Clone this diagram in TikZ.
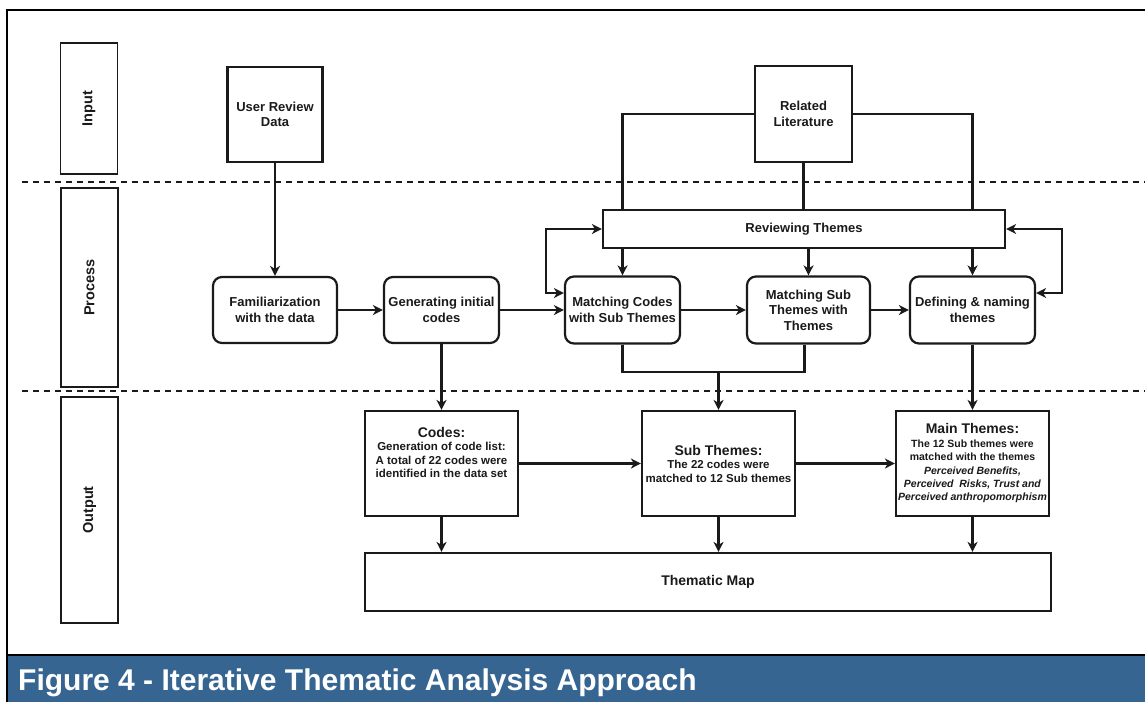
\documentclass[tikz,border=0pt]{standalone}
\usepackage{fontspec}
\setmainfont{Liberation Sans}
\usetikzlibrary{arrows.meta,calc}
\definecolor{ink}{HTML}{1A1A1A}
\definecolor{band}{HTML}{366592}
\tikzset{
  every node/.style={font=\bfseries\fontsize{13}{15.5}\selectfont, text=ink, align=center, inner sep=0pt},
  boxn/.style={draw=ink, line width=2.2pt, fill=white},
  rbox/.style={boxn, rounded corners=9pt},
  lane/.style={draw=ink, line width=1.8pt, minimum width=57pt, font=\bfseries\fontsize{14.5}{16}\selectfont},
  conn/.style={draw=ink, line width=2.2pt},
  tip/.tip={Stealth[length=10pt,width=10pt,inset=3pt]},
  arr/.style={conn, -tip},
  darr/.style={conn, tip-tip},
  sep/.style={draw=ink, line width=2pt, dash pattern=on 6pt off 5pt},
  outbox/.style={boxn, minimum width=153pt, minimum height=105pt},
}
\begin{document}
\begin{tikzpicture}[x=1pt,y=-1pt]
\useasboundingbox (0,0) rectangle (1145,702);
% frame and caption band
\fill[band] (7,655) rectangle (1145,702);
\draw[line width=2pt, black] (7,702) -- (7,10) -- (1145,10);
\draw[line width=2.4pt, black] (7,655) -- (1145,655);
\node[anchor=west, text=white, font=\bfseries\fontsize{30}{32}\selectfont] (cap) at (18,683) {Figure 4 - Iterative Thematic Analysis Approach};
% separators
\draw[sep] (22,182) -- (1145,182);
\draw[sep] (22,391) -- (1145,391);
% lanes
\node[lane, minimum height=131pt] (linp) at (89,108.5) {\rotatebox{90}{Input}};
\node[lane, minimum height=199pt] (lproc) at (89.5,287.5) {\rotatebox{90}{Process}};
\node[lane, minimum height=226pt] (lout) at (89.5,510) {\rotatebox{90}{Output}};
% input
\node[boxn, minimum width=95pt, minimum height=95pt] (urd) at (275,114.5) {User Review\\Data};
\node[boxn, minimum width=97pt, minimum height=96pt] (rl) at (803.5,114) {Related\\Literature};
% process
\node[boxn, minimum width=402pt, minimum height=38pt] (rt) at (804,229) {Reviewing Themes};
\node[rbox, minimum width=124pt, minimum height=66pt] (fam) at (275,310) {Familiarization\\with the data};
\node[rbox, minimum width=115pt, minimum height=66pt] (gen) at (441.5,310) {Generating initial\\codes};
\node[rbox, minimum width=115pt, minimum height=67pt] (mc) at (622.5,310) {Matching Codes\\with Sub Themes};
\node[rbox, minimum width=123pt, minimum height=67pt] (ms) at (808.5,310) {Matching Sub\\Themes with\\Themes};
\node[rbox, minimum width=125pt, minimum height=67pt] (dn) at (972.5,310) {Defining \& naming\\themes};
% output
\node[outbox, font=\bfseries\fontsize{11.5}{13.3}\selectfont] (codes) at (441.5,463.5)
  {{\fontsize{14}{14}\selectfont Codes:}\\
   Generation of code list:\\A total of 22 codes were\\identified in the data set\\[9pt]};
\node[outbox, font=\bfseries\fontsize{11.5}{13.5}\selectfont] (sub) at (718.5,463.5)
  {{\fontsize{14}{14}\selectfont Sub Themes:}\\
   The 22 codes were\\matched to 12 Sub themes};
\node[outbox, font=\bfseries\fontsize{10.5}{13.4}\selectfont] (main) at (972.5,463.5)
  {{\fontsize{14}{14}\selectfont Main Themes:}\\
   The 12 Sub themes were\\matched with the themes\\
   \textit{Perceived Benefits,}\\\textit{Perceived\ \ Risks, Trust and}\\\textit{Perceived anthropomorphism}};
\node[boxn, minimum width=686pt, minimum height=58pt, font=\bfseries\fontsize{14}{16}\selectfont] (tm) at (708,582) {Thematic Map};
% connectors: input
\draw[arr] (urd.south) -- (fam.north);
\draw[conn] (rl.west) -| (rt.north -| mc.north);
\draw[conn] (rl.east) -| (rt.north -| dn.north);
\draw[conn] (rl.south) -- (rt.north -| rl.south);
% process chain
\draw[arr] (fam.east) -- (gen.west);
\draw[arr] (gen.east) -- (mc.west);
\draw[arr] (mc.east) -- (ms.west);
\draw[arr] (ms.east) -- (dn.west);
\draw[arr] (rt.south -| mc.north) -- (mc.north);
\draw[arr] (rt.south -| ms.north) -- (ms.north);
\draw[arr] (rt.south -| dn.north) -- (dn.north);
% feedback loops
\coordinate (lp) at (546,229);
\coordinate (rp) at (1062,229);
\draw[darr] (rt.west) -- (lp) |- ([yshift=17pt]mc.west);
\draw[darr] (rt.east) -- (rp) |- ([yshift=17pt]dn.east);
% join to sub themes
\coordinate (j) at (718.5,372);
\draw[conn] (mc.south) |- (j) -| ([xshift=-4pt]ms.south);
\draw[arr] (j) -- (sub.north);
\draw[arr] (gen.south) -- (codes.north);
\draw[arr] (dn.south) -- (main.north);
% output
\draw[arr] (codes.east) -- (sub.west);
\draw[arr] (sub.east) -- (main.west);
\draw[arr] (codes.south) -- (codes.south |- tm.north);
\draw[arr] (sub.south) -- (sub.south |- tm.north);
\draw[arr] (main.south) -- (main.south |- tm.north);
\end{tikzpicture}
\end{document}
